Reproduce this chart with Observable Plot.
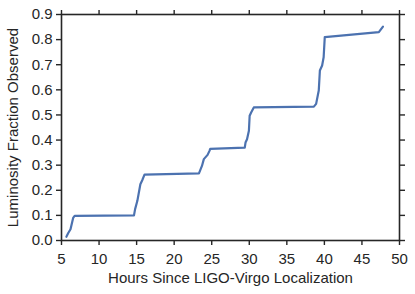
<!DOCTYPE html>
<html>
<head>
<meta charset="utf-8">
<script src="https://cdn.jsdelivr.net/npm/d3@7"></script>
<script src="https://cdn.jsdelivr.net/npm/@observablehq/plot@0.6"></script>
<style>
  html, body { margin: 0; padding: 0; background: #fff; }
  #chart { width: 415px; height: 294px; }
</style>
</head>
<body>
<div id="chart"></div>
<script>
const hours = [5.65, 5.9, 6.2, 6.55, 6.75, 14.65, 14.8, 15.1, 15.5, 15.75, 16.05, 23.3, 23.7, 23.95, 24.45, 24.7, 24.8, 29.4, 29.5, 29.7, 29.95, 30.05, 30.25, 30.6, 38.6, 38.9, 39.25, 39.4, 39.7, 39.9, 40.05, 47.25, 47.8];
const fraction = [0.015, 0.03, 0.045, 0.09, 0.098, 0.1, 0.125, 0.158, 0.224, 0.24, 0.262, 0.267, 0.297, 0.324, 0.341, 0.357, 0.365, 0.37, 0.39, 0.403, 0.437, 0.497, 0.51, 0.53, 0.533, 0.544, 0.597, 0.677, 0.697, 0.73, 0.81, 0.83, 0.852];
const xTicks = [5, 10, 15, 20, 25, 30, 35, 40, 45, 50];
const yTicks = [0, 0.1, 0.2, 0.3, 0.4, 0.5, 0.6, 0.7, 0.8, 0.9];
const xLabel = "Hours Since LIGO-Virgo Localization";
const yLabel = "Luminosity Fraction Observed";

const data = hours.map((h, i) => ({h, f: fraction[i]}));
const axisColor = "#262626";

const chart = Plot.plot({
  width: 415,
  height: 294,
  marginLeft: 61,
  marginRight: 16,
  marginTop: 14,
  marginBottom: 54,
  style: {fontFamily: "'Liberation Sans', Arial, sans-serif", fontSize: "15px", color: axisColor, background: "#fff"},
  x: {domain: [5, 50]},
  y: {domain: [0, 0.9]},
  marks: [
    Plot.line(data, {x: "h", y: "f", stroke: "#4C72B0", strokeWidth: 2.2}),
    Plot.frame({stroke: axisColor, strokeWidth: 1.6}),
    Plot.axisX({ticks: xTicks, tickSize: 5, tickPadding: 8, strokeWidth: 1.4, tickFormat: d3.format("d"), label: xLabel, labelAnchor: "center", labelArrow: "none", labelOffset: 42, stroke: axisColor, fill: axisColor}),
    Plot.axisX({anchor: "top", ticks: xTicks, tickSize: 5, strokeWidth: 1.4, tickFormat: () => "", label: null, stroke: axisColor}),
    Plot.axisY({ticks: yTicks, tickSize: 5, tickPadding: 4, strokeWidth: 1.4, tickFormat: d3.format(".1f"), label: yLabel, labelAnchor: "center", labelArrow: "none", labelOffset: 54, stroke: axisColor, fill: axisColor}),
    Plot.axisY({anchor: "right", ticks: yTicks, tickSize: 5, strokeWidth: 1.4, tickFormat: () => "", label: null, stroke: axisColor})
  ]
});
document.getElementById("chart").appendChild(chart);
</script>
</body>
</html>
